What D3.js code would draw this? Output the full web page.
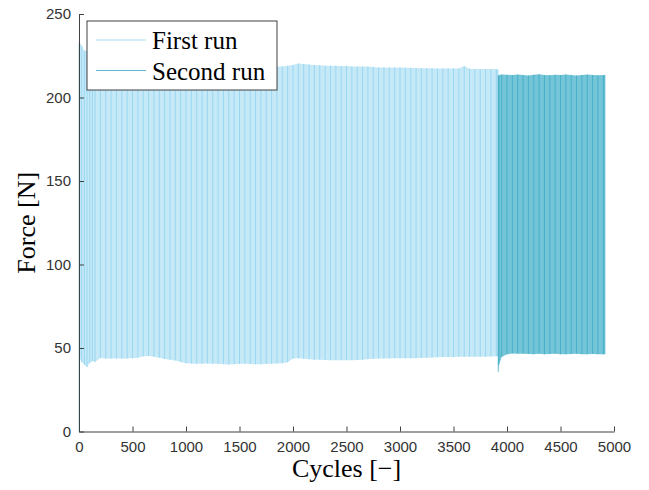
<!DOCTYPE html>
<meta charset="utf-8">
<html>
<head>
    <script src="https://d3js.org/d3.v7.min.js"></script>
    <style>
      body { margin: 0; background: #fff; }
      .tick text { font-family: "Liberation Sans", Arial, sans-serif; font-size: 15px; fill: #333; }
      .tick line, .domain { stroke: #404040; }
    </style>
</head>
<body>
<div id="my_dataviz"></div>
<script>
    // first run: cycle positions with upper / lower force envelope [N]
    const firstCycles = [0, 5, 25, 50, 75, 100, 125, 150,
      200, 250, 300, 350, 400, 450, 500, 550, 600, 650,
      700, 750, 800, 850, 900, 950, 1000, 1050, 1100, 1150,
      1200, 1250, 1300, 1350, 1400, 1450, 1500, 1550, 1600, 1650,
      1700, 1750, 1800, 1850, 1900, 1950, 2000, 2050, 2100, 2150,
      2200, 2250, 2300, 2350, 2400, 2450, 2500, 2550, 2600, 2650,
      2700, 2750, 2800, 2850, 2900, 2950, 3000, 3050, 3100, 3150,
      3200, 3250, 3300, 3350, 3400, 3450, 3500, 3550, 3600, 3650,
      3700, 3750, 3800, 3850, 3900, 3915];
    const firstMax = [233, 233, 231, 228, 228, 228, 227.5, 227,
      227, 226.5, 226, 226, 225.5, 225.5, 225, 225, 224.5, 224.5,
      224, 224, 223.5, 223, 223, 222.5, 222, 222, 221.5, 221.5,
      221, 221, 220.5, 220.5, 220, 220, 220, 219.5, 219.5, 219.5,
      219, 219, 219, 218.5, 218.5, 219, 219.5, 220.4, 220, 219.8,
      219.5, 219.3, 219, 219, 219, 218.8, 218.8, 218.6, 218.5, 218.5,
      218.5, 218.3, 218, 218, 218, 218, 218, 217.8, 217.8, 217.6,
      217.5, 217.5, 217.5, 217.4, 217.4, 217.4, 217.4, 217.3, 218.8, 217.2,
      217, 217, 217, 217, 217, 216.8];
    const firstMin = [0, 44, 41.6, 40, 38.6, 41, 42.2, 41.6,
      44, 43.7, 43.7, 43.7, 43.7, 43.7, 43.8, 44.2, 45, 45.2,
      44.8, 44.2, 43.4, 43, 42.5, 41.6, 40.9, 40.7, 40.6, 40.6,
      40.7, 40.6, 40.5, 40.3, 40.1, 40.3, 40.5, 40.6, 40.4, 40.2,
      40.3, 40.5, 40.6, 40.7, 40.8, 41.5, 43.7, 43.8, 43.5, 43.3,
      43, 42.9, 42.8, 42.7, 42.7, 42.6, 42.7, 42.7, 42.8, 43,
      43.3, 43.5, 43.7, 43.7, 43.7, 43.8, 43.8, 43.8, 43.8, 43.9,
      44, 44.1, 44.3, 44.5, 44.6, 44.6, 44.6, 44.7, 44.7, 44.8,
      44.8, 44.8, 44.8, 44.9, 45, 45];

    // second run
    const secondCycles = [3918, 3925, 3950, 4000, 4050, 4100, 4150, 4200, 4250, 4300,
      4350, 4400, 4450, 4500, 4550, 4600, 4650, 4700, 4750, 4800, 4850, 4900, 4915];
    const secondMax = [213, 213.5, 213.8, 213.6, 213.4, 213.8, 213.5, 213.2, 213.6, 213.9,
      213.5, 213.3, 213.6, 213.4, 213.8, 213.5, 213.2, 213.4, 213.7, 213.5, 213.3, 213.5, 213.4];
    const secondMin = [35.6, 40, 44.6, 46.2, 46.7, 46.5, 46.6, 46.4, 46.3, 46.5,
      46.2, 46.4, 46.6, 46.3, 46.2, 46.4, 46.5, 46.3, 46.2, 46.4, 46.3, 46.2, 46.2];

    const xTicks = [0, 500, 1000, 1500, 2000, 2500, 3000, 3500, 4000, 4500, 5000];
    const yTicks = [0, 50, 100, 150, 200, 250];
    const seriesNames = ["First run", "Second run"];

    const margin = {top: 14, right: 35, bottom: 58.5, left: 79},
        width = 649 - margin.left - margin.right,
        height = 490 - margin.top - margin.bottom;

    const svg = d3.select("#my_dataviz")
      .append("svg")
        .attr("width", 649)
        .attr("height", 490)
      .append("g")
        .attr("transform", `translate(${margin.left},${margin.top})`);

    const x = d3.scaleLinear().domain([0, 5000]).range([0, width]);
    const y = d3.scaleLinear().domain([0, 250]).range([height, 0]);

    function drawRun(cycles, maxs, mins, fill, stroke, op) {
      const data = cycles.map((c, i) => ({c: c, hi: maxs[i], lo: mins[i]}));
      svg.append("path")
        .datum(data)
        .attr("fill", fill)
        .attr("d", d3.area().x(d => x(d.c)).y0(d => y(d.lo)).y1(d => y(d.hi)));
      // one stroke per sampled cycle, min to max
      svg.append("g")
        .selectAll("line")
        .data(data)
        .join("line")
          .attr("x1", d => x(d.c))
          .attr("x2", d => x(d.c))
          .attr("y1", d => y(d.lo))
          .attr("y2", d => y(d.hi))
          .attr("stroke", stroke)
          .attr("stroke-opacity", op)
          .attr("stroke-width", 1);
    }

    drawRun(firstCycles, firstMax, firstMin, "#c6e9f8", "#8fd2ef", 0.8);
    drawRun(secondCycles, secondMax, secondMin, "#74c5d8", "#2aa3be", 0.6);

    // axes, ticks pointing inwards
    svg.append("g")
      .attr("transform", `translate(0,${height})`)
      .call(d3.axisBottom(x).tickValues(xTicks).tickFormat(d3.format("d"))
        .tickSizeInner(-5).tickSizeOuter(0).tickPadding(10));
    svg.append("g")
      .call(d3.axisLeft(y).tickValues(yTicks).tickFormat(d3.format("d"))
        .tickSizeInner(-5).tickSizeOuter(0).tickPadding(8));

    svg.append("text")
      .attr("text-anchor", "middle")
      .attr("x", width / 2)
      .attr("y", height + 45)
      .style("font-family", "'Liberation Serif', 'Times New Roman', serif")
      .style("font-size", "26px")
      .text("Cycles [\u2212]");
    svg.append("text")
      .attr("text-anchor", "middle")
      .attr("transform", "rotate(-90)")
      .attr("x", -height / 2)
      .attr("y", -44)
      .style("font-family", "'Liberation Serif', 'Times New Roman', serif")
      .style("font-size", "26px")
      .text("Force [N]");

    // legend
    const legendColors = ["#a9ddf4", "#5fb6d3"];
    const lg = svg.append("g").attr("transform", "translate(8,7)");
    lg.append("rect")
      .attr("width", 190).attr("height", 69)
      .attr("fill", "white").attr("stroke", "#404040").attr("stroke-width", 1);
    seriesNames.forEach((name, i) => {
      lg.append("line")
        .attr("x1", 9).attr("x2", 59)
        .attr("y1", 19 + i * 30.5).attr("y2", 19 + i * 30.5)
        .attr("stroke", legendColors[i]).attr("stroke-width", 1.2);
      lg.append("text")
        .attr("x", 65).attr("y", 28 + i * 30.5)
        .style("font-family", "'Liberation Serif', 'Times New Roman', serif")
        .style("font-size", "25px")
        .text(name);
    });
</script>
</body>
</html>
